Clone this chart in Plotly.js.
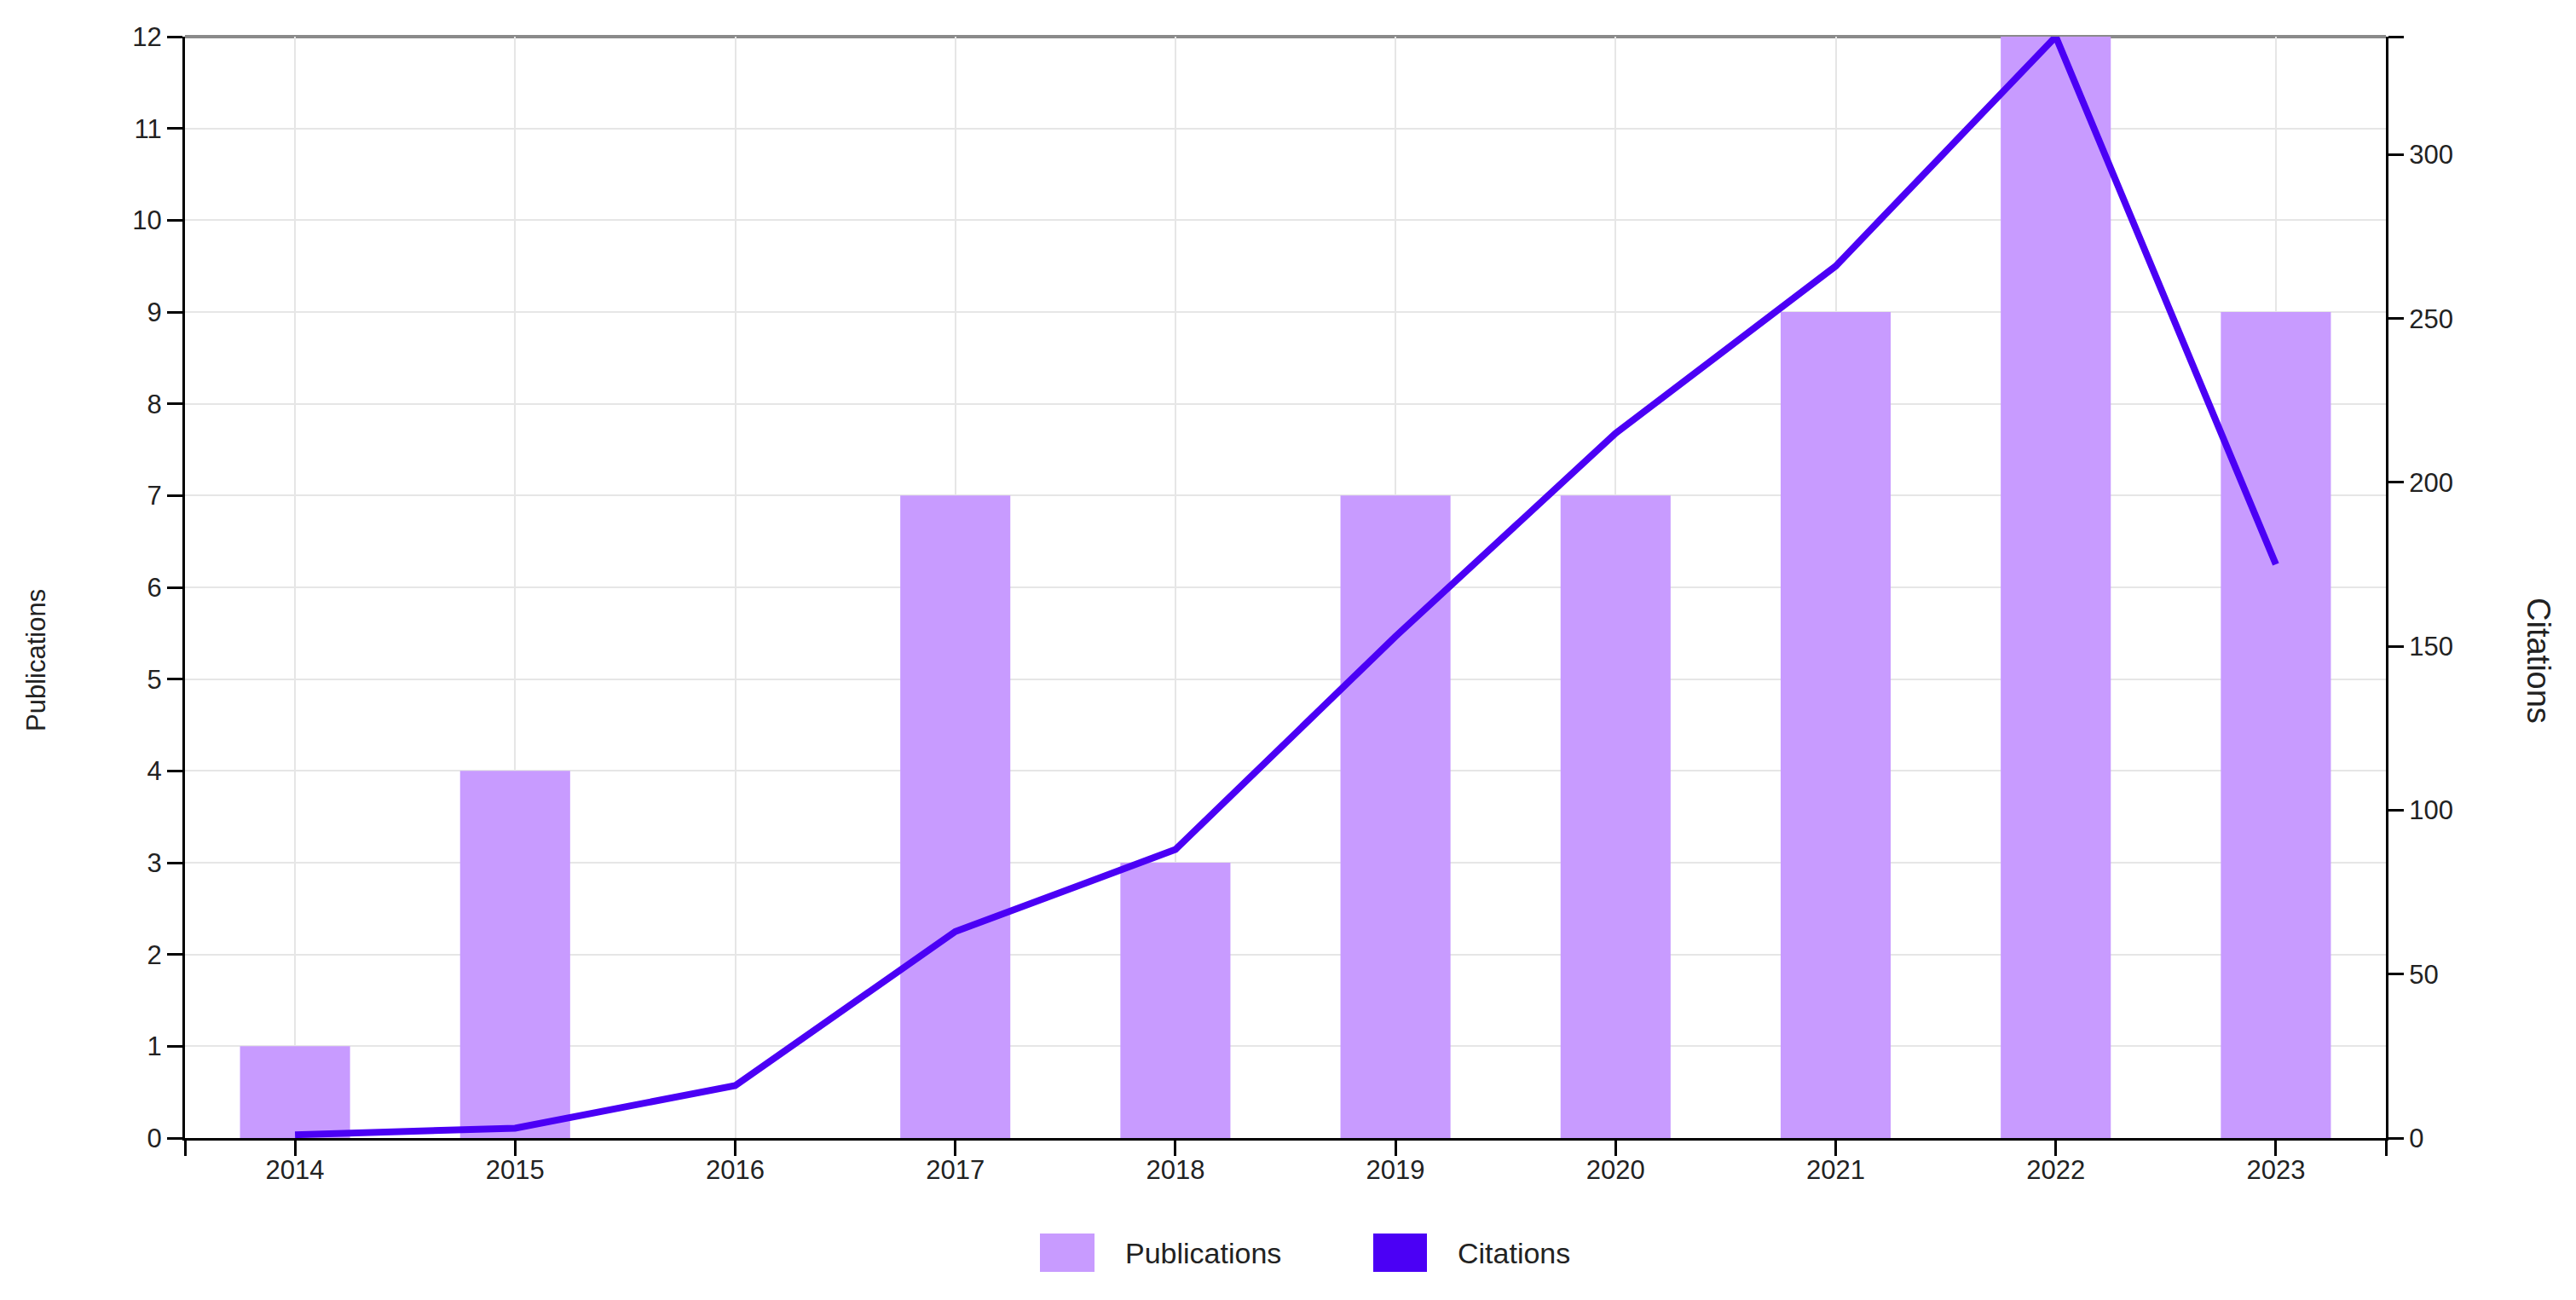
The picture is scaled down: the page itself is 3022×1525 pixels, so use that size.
<!DOCTYPE html>
<html>
<head>
<meta charset="utf-8">
<script src="https://cdn.plot.ly/plotly-3.0.1.min.js"></script>
<style>html,body{margin:0;padding:0;background:#fff;}#chart{width:3022px;height:1525px;}</style>
</head>
<body>
<div id="chart"></div>
<script>
// ---- data ----
const years = [2014, 2015, 2016, 2017, 2018, 2019, 2020, 2021, 2022, 2023];
const yearLabels = ['2014', '2015', '2016', '2017', '2018', '2019', '2020', '2021', '2022', '2023'];
const publications = [1, 4, 0, 7, 3, 7, 7, 9, 12, 9];
const citations = [1, 3, 16, 63, 88, 153, 215, 266, 336, 175];
const seriesNames = ['Publications', 'Citations'];
const axisTitles = ['Publications', 'Citations'];

// ---- styles ----
const FONT = 'Liberation Sans, Arial, sans-serif';
const barColor = '#c89bff';
const lineColor = '#4b00f5';
const gridColor = '#e6e6e6';

const W = 3022, H = 1525;
const M = {l: 217, r: 223, t: 43, b: 190};
const pw = W - M.l - M.r, ph = H - M.t - M.b;
const px2x = p => (p - M.l) / pw;
const py2y = p => (H - M.b - p) / ph;

const pubMax = Math.max(...publications);
const citMax = Math.max(...citations);

// x ticks: category centres plus the two outer ends of the axis
const xTickVals = [years[0] - 0.5].concat(years, [years[years.length - 1] + 0.5]);
const xTickText = [''].concat(yearLabels, ['']);

const y2TickVals = [];
for (let v = 0; v <= citMax; v += 50) y2TickVals.push(v);
const y2TickText = y2TickVals.map(String);
y2TickVals.push(citMax); y2TickText.push('');

const traces = [
  {
    type: 'bar', name: seriesNames[0], x: years, y: publications,
    marker: {color: barColor}, width: 0.5, yaxis: 'y', showlegend: false
  },
  {
    type: 'scatter', mode: 'lines', name: seriesNames[1], x: years, y: citations,
    line: {color: lineColor, width: 8}, yaxis: 'y2', showlegend: false, cliponaxis: false
  }
];

const tickFont = {family: FONT, size: 31, color: '#222'};

const layout = {
  width: W, height: H,
  margin: M,
  paper_bgcolor: '#fff', plot_bgcolor: '#fff',
  showlegend: false,
  font: {family: FONT, color: '#222'},
  xaxis: {
    range: [years[0] - 0.5, years[years.length - 1] + 0.5],
    tickmode: 'array', tickvals: xTickVals, ticktext: xTickText,
    showline: true, linecolor: '#000', linewidth: 3,
    ticks: 'outside', ticklen: 18, tickwidth: 3, tickcolor: '#000',
    ticklabelstandoff: -10,
    showgrid: true, gridcolor: gridColor, gridwidth: 2,
    zeroline: false, tickfont: tickFont, fixedrange: true
  },
  yaxis: {
    range: [0, pubMax], dtick: 1, tick0: 0,
    showline: true, linecolor: '#000', linewidth: 3,
    ticks: 'outside', ticklen: 18, tickwidth: 3, tickcolor: '#000',
    showgrid: true, gridcolor: gridColor, gridwidth: 2,
    zeroline: false, tickfont: tickFont, fixedrange: true
  },
  yaxis2: {
    overlaying: 'y', side: 'right',
    range: [0, citMax],
    tickmode: 'array', tickvals: y2TickVals, ticktext: y2TickText,
    showline: true, linecolor: '#000', linewidth: 3,
    ticks: 'outside', ticklen: 18, tickwidth: 3, tickcolor: '#000',
    showgrid: false, zeroline: false, tickfont: tickFont, fixedrange: true
  },
  shapes: [
    // grey top border of the plot area
    {type: 'line', xref: 'paper', yref: 'paper', x0: 0, x1: 1, y0: 1, y1: 1,
     line: {color: '#8a8a8a', width: 4}, layer: 'below'},
    // legend swatches
    {type: 'rect', xref: 'paper', yref: 'paper',
     x0: px2x(1220), x1: px2x(1284), y0: py2y(1492), y1: py2y(1447),
     fillcolor: barColor, line: {width: 0}, layer: 'above'},
    {type: 'rect', xref: 'paper', yref: 'paper',
     x0: px2x(1611), x1: px2x(1674), y0: py2y(1492), y1: py2y(1447),
     fillcolor: lineColor, line: {width: 0}, layer: 'above'}
  ],
  annotations: [
    {text: seriesNames[0], xref: 'paper', yref: 'paper', x: px2x(1318), y: py2y(1470),
     xanchor: 'left', yanchor: 'middle', showarrow: false,
     font: {family: FONT, size: 34, color: '#222'}},
    {text: seriesNames[1], xref: 'paper', yref: 'paper', x: px2x(1708), y: py2y(1470),
     xanchor: 'left', yanchor: 'middle', showarrow: false,
     font: {family: FONT, size: 34, color: '#222'}},
    {text: axisTitles[0], xref: 'paper', yref: 'paper', x: px2x(42), y: py2y(775),
     xanchor: 'center', yanchor: 'middle', textangle: -90, showarrow: false,
     font: {family: FONT, size: 31, color: '#222'}},
    {text: axisTitles[1], xref: 'paper', yref: 'paper', x: px2x(2978), y: py2y(775),
     xanchor: 'center', yanchor: 'middle', textangle: 90, showarrow: false,
     font: {family: FONT, size: 38, color: '#222'}}
  ]
};

Plotly.newPlot('chart', traces, layout, {displayModeBar: false, staticPlot: true});
</script>
</body>
</html>
